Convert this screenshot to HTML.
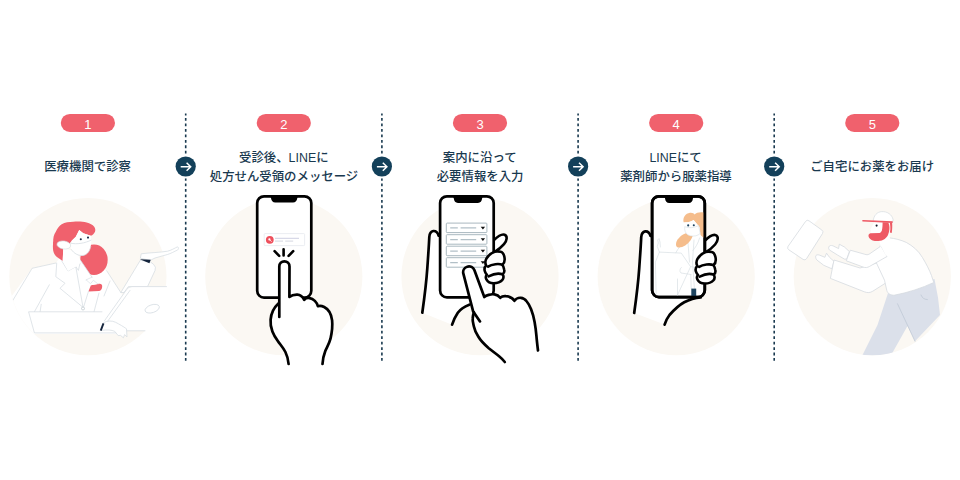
<!DOCTYPE html>
<html lang="ja"><head><meta charset="utf-8"><title>flow</title>
<style>
html,body{margin:0;padding:0;background:#fff;}
body{width:960px;height:480px;overflow:hidden;font-family:"Liberation Sans",sans-serif;}
svg{display:block;}
</style></head><body>
<svg width="960" height="480" viewBox="0 0 960 480">
<rect width="960" height="480" fill="#fff"/>
<circle cx="87.9" cy="276.6" r="78.6" fill="#fbf8f3"/>
<circle cx="283.8" cy="276.6" r="78.6" fill="#fbf8f3"/>
<circle cx="480.0" cy="276.6" r="78.6" fill="#fbf8f3"/>
<circle cx="676.2" cy="276.6" r="78.6" fill="#fbf8f3"/>
<circle cx="872.3" cy="276.6" r="78.6" fill="#fbf8f3"/>
<line x1="185.7" y1="113.6" x2="185.7" y2="361.6" stroke="#19394f" stroke-width="1.6" stroke-dasharray="2.8 2.655" stroke-dashoffset="1"/>
<circle cx="185.7" cy="166.5" r="12.1" fill="#fff"/>
<circle cx="185.7" cy="166.5" r="10.1" fill="#13405a"/>
<path d="M180.70 166.7H190.30M186.60 162.7L190.70 166.7L186.60 170.7" fill="none" stroke="#fff" stroke-width="1.5" stroke-linejoin="miter"/>
<line x1="381.9" y1="113.6" x2="381.9" y2="361.6" stroke="#19394f" stroke-width="1.6" stroke-dasharray="2.8 2.655" stroke-dashoffset="1"/>
<circle cx="381.9" cy="166.5" r="12.1" fill="#fff"/>
<circle cx="381.9" cy="166.5" r="10.1" fill="#13405a"/>
<path d="M376.90 166.7H386.50M382.80 162.7L386.90 166.7L382.80 170.7" fill="none" stroke="#fff" stroke-width="1.5" stroke-linejoin="miter"/>
<line x1="578.1" y1="113.6" x2="578.1" y2="361.6" stroke="#19394f" stroke-width="1.6" stroke-dasharray="2.8 2.655" stroke-dashoffset="1"/>
<circle cx="578.1" cy="166.5" r="12.1" fill="#fff"/>
<circle cx="578.1" cy="166.5" r="10.1" fill="#13405a"/>
<path d="M573.10 166.7H582.70M579.00 162.7L583.10 166.7L579.00 170.7" fill="none" stroke="#fff" stroke-width="1.5" stroke-linejoin="miter"/>
<line x1="774.2" y1="113.6" x2="774.2" y2="361.6" stroke="#19394f" stroke-width="1.6" stroke-dasharray="2.8 2.655" stroke-dashoffset="1"/>
<circle cx="774.2" cy="166.5" r="12.1" fill="#fff"/>
<circle cx="774.2" cy="166.5" r="10.1" fill="#13405a"/>
<path d="M769.20 166.7H778.80M775.10 162.7L779.20 166.7L775.10 170.7" fill="none" stroke="#fff" stroke-width="1.5" stroke-linejoin="miter"/>
<rect x="60.800000000000004" y="113.9" width="54.2" height="18" rx="9" fill="#f0616d"/>
<text x="87.9" y="128.7" font-size="13" fill="#fff" text-anchor="middle" font-family='"Liberation Sans", "Noto Sans CJK JP", sans-serif'>1</text>
<rect x="256.7" y="113.9" width="54.2" height="18" rx="9" fill="#f0616d"/>
<text x="283.8" y="128.7" font-size="13" fill="#fff" text-anchor="middle" font-family='"Liberation Sans", "Noto Sans CJK JP", sans-serif'>2</text>
<rect x="452.9" y="113.9" width="54.2" height="18" rx="9" fill="#f0616d"/>
<text x="480" y="128.7" font-size="13" fill="#fff" text-anchor="middle" font-family='"Liberation Sans", "Noto Sans CJK JP", sans-serif'>3</text>
<rect x="649.1" y="113.9" width="54.2" height="18" rx="9" fill="#f0616d"/>
<text x="676.2" y="128.7" font-size="13" fill="#fff" text-anchor="middle" font-family='"Liberation Sans", "Noto Sans CJK JP", sans-serif'>4</text>
<rect x="845.1999999999999" y="113.9" width="54.2" height="18" rx="9" fill="#f0616d"/>
<text x="872.3" y="128.7" font-size="13" fill="#fff" text-anchor="middle" font-family='"Liberation Sans", "Noto Sans CJK JP", sans-serif'>5</text>
<text x="87.6" y="170.6" font-size="12.4" font-weight="500" fill="#19394f" text-anchor="middle" font-family='"Liberation Sans", "Noto Sans CJK JP", sans-serif'>医療機関で診察</text>
<text x="283.8" y="161.5" font-size="12.4" font-weight="500" fill="#19394f" text-anchor="middle" font-family='"Liberation Sans", "Noto Sans CJK JP", sans-serif'>受診後、LINEに</text>
<text x="284" y="180.5" font-size="12.4" font-weight="500" fill="#19394f" text-anchor="middle" font-family='"Liberation Sans", "Noto Sans CJK JP", sans-serif'>処方せん受領のメッセージ</text>
<text x="479.7" y="161.5" font-size="12.4" font-weight="500" fill="#19394f" text-anchor="middle" font-family='"Liberation Sans", "Noto Sans CJK JP", sans-serif'>案内に沿って</text>
<text x="480.1" y="180.5" font-size="12.4" font-weight="500" fill="#19394f" text-anchor="middle" font-family='"Liberation Sans", "Noto Sans CJK JP", sans-serif'>必要情報を入力</text>
<text x="675.6" y="161.5" font-size="12.4" font-weight="500" fill="#19394f" text-anchor="middle" font-family='"Liberation Sans", "Noto Sans CJK JP", sans-serif'>LINEにて</text>
<text x="676" y="180.5" font-size="12.4" font-weight="500" fill="#19394f" text-anchor="middle" font-family='"Liberation Sans", "Noto Sans CJK JP", sans-serif'>薬剤師から服薬指導</text>
<text x="872.2" y="170.6" font-size="12.4" font-weight="500" fill="#19394f" text-anchor="middle" font-family='"Liberation Sans", "Noto Sans CJK JP", sans-serif'>ご自宅にお薬をお届け</text>
<g id="ill1">
<defs><clipPath id="c1"><circle cx="88" cy="276.6" r="78.6"/></clipPath></defs>
<g clip-path="url(#c1)">
<!-- ponytail + hair behind neck -->
<!-- coat (body + left arm) -->
<path d="M32.1 268.3L56 263L62 254L72 252L80 263.3L100 268L106.7 270.8L120.8 292.5L126 300L126 334L0 334L0 312Z" fill="#fff"/>
<!-- ponytail -->
<path d="M53.2 241.7C52.8 245 52.8 248 53.2 250.4C53.8 253.4 55.2 255.6 56.9 256.9L62.7 261L63.2 249L60 240Z" fill="#f0616d"/>
<ellipse cx="94" cy="259.7" rx="13.7" ry="15.3" fill="#f0616d"/>
<path d="M78 256L81.75 262L91 275.6L92 277.2L86 279.9L83 300L74 268Z" fill="#fff"/>
<!-- small red shape -->
<path d="M90.9 285.3L98 284.1C99.4 283.7 100.8 283.8 101.6 284.6C102.4 285.6 102.4 287.2 101.75 288.7C101.2 290 100.4 290.75 99 290.9L88.4 291.6Z" fill="#f0616d"/>
<!-- collar flap over red -->
<path d="M86 279.9L92 277.2L90.4 279.4L93.4 280.3L98 284L90.9 285.3L90.5 283.7Z" fill="#fff"/>
<path d="M86 279.9L92 277.2M86.3 280L90.5 283.7L93.4 280.3L98 284" fill="none" stroke="#d2dae0" stroke-width="0.6" stroke-linejoin="round" stroke-linecap="round"/>
<!-- coat lines -->
<g fill="none" stroke="#d2dae0" stroke-width="0.7" stroke-linejoin="round" stroke-linecap="round">
<path d="M12.6 300.8L32.1 268.3L56 263"/>
<path d="M49.3 284.8L34.4 311.8M41.2 304.3L40.1 311.8"/>
<path d="M56.7 263.3L55.8 276.7L65 283.3L60 288.3L82.6 307"/>
<path d="M80.6 260.4L92 277.2M88.4 291.6L83.6 307"/>
<path d="M75.8 266.7L82.9 306.6"/>
<path d="M61.7 260.8L68 271L75.8 266.7L78.4 270.4L80 263.3"/>
<path d="M106.7 270.8L120.8 292.5"/>
<path d="M99 293L94 311.8M110 281L104 296"/>
</g>
<circle cx="83" cy="308.5" r="1.5" fill="#fff" stroke="#b9c4cc" stroke-width="0.7"/>
<!-- desk -->
<path d="M28.6 311.8H126V332.6H34.4Z" fill="#fff"/>
<path d="M34.4 332.9L28.6 311.8H102.4M34.4 332.9H126" fill="none" stroke="#d3dadf" stroke-width="0.7" stroke-linejoin="round"/>
</g>
<!-- gesture sleeve + hand (other person) -->
<path d="M140.3 260.3L150.5 262L153.6 264.4Q156.6 267 155 270.6L147.5 286.7H128.3L124 292.5H120.8Z" fill="#fff" stroke="#d2dae0" stroke-width="0.7" stroke-linejoin="round"/>
<path d="M140.4 258.2L141.2 253.8C150 252.6 160 252.5 167.5 251.2C171 250.4 175 248 177.3 246.9C178.7 246.7 178.8 249.4 177.6 250C174 251.6 171 253.5 167.5 254.5C163 255.8 159 256.8 155 258L150.2 260.4Z" fill="#fff" stroke="#d2dae0" stroke-width="0.7" stroke-linejoin="round"/>
<path d="M139.8 259.2L150.7 259.7L149.4 263.2Z" fill="#14243c"/>
<!-- laptop -->
<path d="M132 286.6H176V330.8H100L105.8 318.3L126.6 289.6Q128.6 286.6 132 286.6Z" fill="#fff"/>
<path d="M166.5 286.6H132Q128.6 286.6 126.6 289.6L104.6 320.6M130 290.4L107.4 321.6M126 330.8H145" fill="none" stroke="#d2dae0" stroke-width="0.7" stroke-linecap="round"/>
<ellipse cx="152.2" cy="308.7" rx="7.4" ry="3.9" transform="rotate(-18 152.2 308.7)" fill="#fff" stroke="#d2dae0" stroke-width="0.7"/>
<!-- woman's hand on desk -->
<path d="M103.6 322.6C107.6 320.6 112 320.5 115.6 322.3C119.5 324.3 123.4 326.6 126.5 328.8L127 336.9L124.6 334.6L123.4 337.8L120.6 335.4L118.2 335.6L114.7 331.3C111.6 330 107.4 329.5 101.2 330.4Z" fill="#fff" stroke="#d2dae0" stroke-width="0.7" stroke-linejoin="round"/>
<path d="M103.5 323.3L100.7 330.6" stroke="#14243c" stroke-width="1.9" stroke-linecap="butt" fill="none"/>
<!-- neck -->
<path d="M63.3 248.2L62.7 261L68 271L75.8 266.7L80 263.3L78 252Z" fill="#fff"/>
<!-- hair top -->
<path d="M53.2 243C53 238 53.8 234.4 55.8 231.7C57.4 228 59.4 225.6 61.7 224.2C65 222.4 69 221.8 73.3 221.7C78 221.4 83 221.5 86.7 222.5C90 223.4 92.6 224.8 94.2 226.7C95.4 228.4 95.6 230.2 95 231.7C94.2 233.6 92.6 235 90.8 235.8L83.3 233.3L79.2 230L75.8 236.7L71.7 240.8L66 248L58 248Z" fill="#f0616d"/>
<!-- face -->
<path d="M79.2 230L83.3 233.3L90.8 235.8C91.6 240 91.6 246 89.2 251C86.8 255.4 82.4 256.6 78.4 255.2C75 254 72 251 70.6 248L71.7 240.8L75.8 236.7Z" fill="#fff"/>
<path d="M70.6 243.2C77 244.6 85 243.2 91 240.2M71.4 249.6C74 253.6 78.6 256.2 83.4 255.4C87.4 254.6 89.8 251 90.8 246.6" fill="none" stroke="#d2dae0" stroke-width="0.7" stroke-linecap="round"/>
<!-- ear -->
<ellipse cx="63.8" cy="245" rx="6.9" ry="4" transform="rotate(8 63.8 245)" fill="#fff" stroke="#d5dce1" stroke-width="0.6"/>
<circle cx="80.8" cy="239.2" r="1.05" fill="#1b2a47"/>
<circle cx="88" cy="237.6" r="1.05" fill="#1b2a47"/>

</g>
<g id="ill2">
<!-- phone -->
<rect x="257.2" y="196.3" width="54.1" height="101.3" rx="6.8" fill="#fff" stroke="#000" stroke-width="2.7"/>
<path d="M268.6 196H299.4C297.8 196.4 297.4 197.4 297.2 198.6C296.9 201 295.6 202.5 293 202.5H275.3C272.7 202.5 271.4 201 271.1 198.6C270.9 197.4 270.5 196.4 268.6 196Z" fill="#000"/>
<!-- notification -->
<rect x="264.2" y="233.6" width="40.4" height="12" rx="0.8" fill="#fff" stroke="#e3e6ec" stroke-width="0.7"/>
<circle cx="269.8" cy="239.8" r="3.9" fill="#ee4f5c"/>
<circle cx="269.4" cy="239.4" r="1.1" fill="#fff"/>
<path d="M270.1 240.2L271.3 241.4" stroke="#fff" stroke-width="0.8" stroke-linecap="round"/>
<path d="M275 238.3H299" stroke="#c9cbe0" stroke-width="0.9"/>
<path d="M275 241.1H283M285.2 241.1H293.2" stroke="#cfd1dd" stroke-width="0.9"/>
<!-- tap marks -->
<path d="M283.6 249.3V255.4M274.6 251.2L279.2 255.9M293.2 251.2L288.6 255.9" fill="none" stroke="#000" stroke-width="2.6" stroke-linecap="round"/>
<!-- hand -->
<path d="M279.5 266.4A5 5 0 0 1 289.5 266.4L289.4 297C290.6 296 294 294.6 297.3 294.7C300.5 294.9 303 297.4 304.2 299.8C305.4 298.4 307.4 297.8 309.6 298.1C313.4 298.6 317 302.3 317.9 306.2C319.6 305.6 322 305.9 324.2 307C328.6 309.2 331.4 314.6 332.1 320.4C332.6 325 332 332 330.5 338.7C329 344.4 326.6 347.6 325.3 351C323.8 354.8 322.8 359.4 322.5 364L288.6 364C288.2 359.6 287.2 355.6 285.4 352C283.4 348 280.4 344.8 277.8 341C275.4 337.6 273.6 334.6 272.4 331.4C270.8 327.4 270.3 323.4 270.6 319.6C271 314.4 273.4 308 277.8 303.9L279.5 303Z" fill="#fff"/>
<path d="M279.3 317V266.4A5.1 5.1 0 0 1 289.5 266.4L289.4 297C290.6 296 294 294.6 297.3 294.7C300.5 294.9 303 297.4 304.2 299.8C305.4 298.4 307.4 297.8 309.6 298.1C313.4 298.6 317 302.3 317.9 306.2C319.6 305.6 322 305.9 324.2 307C328.6 309.2 331.4 314.6 332.1 320.4C332.6 325 332 332 330.5 338.7C329 344.4 326.6 347.6 325.3 351C323.8 354.8 322.8 359.4 322.5 364" fill="none" stroke="#000" stroke-width="2.7" stroke-linecap="round" stroke-linejoin="round"/>
<path d="M278.4 303.4C273.8 307.6 271 314.4 270.6 319.6C270.3 323.4 270.8 327.4 272.4 331.4C273.6 334.6 275.4 337.6 277.8 341C280.4 344.8 283.4 348 285.4 352C287.2 355.6 288.2 359.6 288.6 364" fill="none" stroke="#000" stroke-width="2.7" stroke-linecap="round" stroke-linejoin="round"/>

</g>
<g id="ill3">
<!-- left hand (behind phone) -->
<path d="M438.6 235.6C437.8 232.7 435.6 230.8 433.3 231C430.6 231.4 429.5 234 429.3 237C428.8 248 428 258 427.3 268.3C426.5 280 424.5 297 422.3 312.7L452.1 324.7C453.4 320.6 455.4 316.4 457.8 312.8C460.6 308.8 464.6 306.4 469.3 304.7L470 290L441 290Z" fill="#fff"/>
<path d="M438.6 235.6C437.8 232.7 435.6 230.8 433.3 231C430.6 231.4 429.5 234 429.3 237C428.8 248 428 258 427.3 268.3C426.5 280 424.5 297 422.3 312.7" fill="none" stroke="#000" stroke-width="2.7" stroke-linecap="round" stroke-linejoin="round"/>
<path d="M469.3 304.7C464.6 306.4 460.6 308.8 457.8 312.8C455.4 316.4 453.4 320.6 452.1 324.7" fill="none" stroke="#000" stroke-width="2.7" stroke-linecap="round"/>
<!-- finger 1 behind phone edge -->
<path d="M493.7 240.4C496.6 237.6 501.6 233.6 504.6 234.8C507.8 236 507 240.6 504 244.2C501 247.8 497.4 250.4 493.7 252.6Z" fill="#fff" stroke="#000" stroke-width="2.6" stroke-linejoin="round"/>
<!-- phone -->
<rect x="440.1" y="196.3" width="53.6" height="101.1" rx="6.8" fill="#fff" stroke="#000" stroke-width="2.7"/>
<path d="M451.4 196H484.5C482.8 196.4 482.3 197.4 482.1 198.6C481.8 201.2 480.5 202.9 477.9 202.9H458C455.4 202.9 454.1 201.2 453.8 198.6C453.6 197.4 453.1 196.4 451.4 196Z" fill="#000"/>
<!-- form -->
<g fill="#fff" stroke="#a9b8bf" stroke-width="1">
<rect x="446.3" y="223.1" width="40.6" height="9.5" rx="0.8"/>
<rect x="446.3" y="234.7" width="40.6" height="9.5" rx="0.8"/>
<rect x="446.3" y="246.2" width="40.6" height="9.5" rx="0.8"/>
<rect x="446.3" y="257.7" width="40.6" height="9.5" rx="0.8"/>
</g>
<path d="M450.2 227.9H457.8M460.6 227.9H476.2M450.2 239.5H457.8M460.6 239.5H476.2M450.2 251H457.8M460.6 251H476.2M450.2 262.5H457.8M460.6 262.5H476.2" stroke="#b2c0c7" stroke-width="1.25" fill="none"/>
<path d="M480.7 226.7H485.1L482.9 229.4ZM480.7 238.3H485.1L482.9 241ZM480.7 249.8H485.1L482.9 252.5ZM480.7 261.3H485.1L482.9 264Z" fill="#111"/>
<!-- gripping fingers 2-4 -->
<path d="M494.6 251.7C491.4 253 488.2 255.4 486.4 258.6C485.2 260.8 485 263.4 486.2 265.6C484.6 267 484.2 269.4 484.9 271.4C485.3 272.7 486 273.8 486.9 274.6C485.6 276 485.6 277.8 486.4 279.3C487.8 281.9 490.6 283.2 493.6 283.2C497 283.2 500.4 282.2 502.2 280.2C503.6 278.6 503.8 276.2 502.6 274.3C504.2 273.2 504.6 271.4 504.2 269.7C503.8 267.8 503.2 266 502.4 264.8C504.4 263.2 505 260 504.4 257C503.8 254.2 502.6 252 500.6 251.7C498.6 251.4 496.6 251.2 494.6 251.7Z" fill="#fff" stroke="#000" stroke-width="2.6" stroke-linejoin="round"/>
<path d="M502.4 264.8C499 263.4 492 264 488 266.6M502.6 274.3C499.4 273.2 493.4 273.8 488.6 276.4" fill="none" stroke="#000" stroke-width="2.6" stroke-linecap="round"/>
<!-- right hand with pointing finger -->
<path d="M473.2 311.6L463.36 273.7A5.8 5.8 0 0 1 474.44 270.3L484.3 297C486 295.4 491 293.8 494.5 294.4C497.2 294.9 499 296.2 500.2 297.8C501.8 296.4 504 296 505.9 296.2C509 296.4 512.6 298.2 514.4 300.8C516 298.6 518.4 297.6 520.8 297.8C523.2 298 525.2 299.4 526.6 301.25C528.6 303.6 530 306.4 531.1 309.3C532.6 313.2 533.8 317.6 534.6 321.9C535.4 326.4 536 331 536.4 335.6C536.8 340.6 537.4 345.6 538 350.5L504.8 362C502.8 359.6 501 357.8 499.1 356.25C495.8 353.6 492.2 351 488.75 348.2C485 345 481 341.2 478.4 336.8C476.4 333.6 474.6 330.2 473.9 326.5C473.2 323.4 472.4 321 472.7 318.4C472.9 316 473.3 314 473.9 312.25Z" fill="#fff"/>
<path d="M480 321.4L473.2 311.6L463.36 273.7A5.8 5.8 0 0 1 474.44 270.3L484.3 297C486 295.4 491 293.8 494.5 294.4C497.2 294.9 499 296.2 500.2 297.8C501.8 296.4 504 296 505.9 296.2C509 296.4 512.6 298.2 514.4 300.8C516 298.6 518.4 297.6 520.8 297.8C523.2 298 525.2 299.4 526.6 301.25C528.6 303.6 530 306.4 531.1 309.3C532.6 313.2 533.8 317.6 534.6 321.9C535.4 326.4 536 331 536.4 335.6C536.8 340.6 537.4 345.6 538 350.5" fill="none" stroke="#000" stroke-width="2.7" stroke-linecap="round" stroke-linejoin="round"/>
<path d="M473.9 312.25C473.3 314 472.9 316 472.7 318.4C472.4 321 473.2 323.4 473.9 326.5C474.6 330.2 476.4 333.6 478.4 336.8C481 341.2 485 345 488.75 348.2C492.2 351 495.8 353.6 499.1 356.25C501 357.8 502.8 359.6 504.8 362" fill="none" stroke="#000" stroke-width="2.7" stroke-linecap="round" stroke-linejoin="round"/>

</g>
<g id="ill4">
<g transform="translate(211.9 0.3)">
<!-- left hand (behind phone) -->
<path d="M438.6 235.6C437.8 232.7 435.6 230.8 433.3 231C430.6 231.4 429.5 234 429.3 237C428.8 248 428 258 427.3 268.3C426.5 280 424.5 297 422.3 312.7L452.7 324.3C453.8 320.6 455.4 317.6 457.6 314.7C463 308.6 468 304.4 472.3 302C478 298.8 483 297.4 489 297L470 290L441 290Z" fill="#fff"/>
<path d="M438.6 235.6C437.8 232.7 435.6 230.8 433.3 231C430.6 231.4 429.5 234 429.3 237C428.8 248 428 258 427.3 268.3C426.5 280 424.5 297 422.3 312.7" fill="none" stroke="#000" stroke-width="2.7" stroke-linecap="round" stroke-linejoin="round"/>
<path d="M489 297C483 297.4 478 298.8 472.3 302C468 304.4 463 308.6 457.6 314.7C455.4 317.6 453.8 320.6 452.7 324.3" fill="none" stroke="#000" stroke-width="2.7" stroke-linecap="round"/>
<!-- finger 1 behind phone edge -->
<path transform="translate(-0.8 0)" d="M493.7 240.4C496.6 237.6 501.6 233.6 504.6 234.8C507.8 236 507 240.6 504 244.2C501 247.8 497.4 250.4 493.7 252.6Z" fill="#fff" stroke="#000" stroke-width="2.6" stroke-linejoin="round"/>
<!-- phone -->
<rect x="440.2" y="196" width="52.7" height="100.8" rx="6.8" fill="#fff" stroke="#000" stroke-width="2.7"/>
</g>
<!-- screen content -->
<g id="screen4">
<!-- body sketch lines -->
<g fill="none" stroke="#d9e0e4" stroke-width="0.7" stroke-linejoin="round" stroke-linecap="round">
<path d="M659.4 252.1L681.3 253.1L690.6 266.7L677.1 296"/>
<path d="M659.4 252.1L655.4 262L656.2 296"/>
<path d="M659.4 252.1L657.3 246.5L658.3 243L657.7 240L659 238.5L660 242L660.4 247"/>
<path d="M675.8 252.8C678 248 682 244 686.5 241"/>
<path d="M687.5 236.5L689.5 262M694 240L692.5 262L694.4 288.5"/>
<path d="M699.6 238C698 244 695 248 692.9 250.5"/>
<path d="M681.3 267.5C679.6 269 679.4 271.5 681 273L691 274.5"/>
<path d="M690.6 266.7L696.5 267.5"/>
<path d="M677.5 279V296M690.8 274.5L691.2 288.5"/>
</g>
<!-- hair -->
<path d="M683.6 222.2C682.6 217.6 685.4 213.4 690 212.8C692.4 212.5 693.8 213.4 694.6 214.4C696.2 212.6 699 212 702 212.2L704.2 212.6V238.2C702.8 237.4 701.4 236.2 700.4 234.6L699.4 227C697.6 224.4 695.4 222.4 693.6 220C691.4 221.8 687 222.6 683.6 222.2Z" fill="#f5bd8c"/>
<path d="M689.8 232.2C685.4 232.6 680.4 235.4 677.6 239.6C675.6 242.6 675.4 246.6 677.4 247.2C681.6 248.4 687.4 244.6 690.4 240.4C691.8 238.4 692.4 236.6 692.8 235.4Z" fill="#f5bd8c"/>
<!-- face + mask -->
<path d="M684.6 222.4C687.6 222.6 691.4 221.8 693.6 220C695.4 222.4 697.6 224.4 699.4 227L700.2 233.4C698 235.8 694 236.6 690.4 235.8C687 235 685 232.6 684.6 229.4Z" fill="#fff"/>
<path d="M684.7 226.6C689 228.4 694 227.8 698.6 225.6L700.2 233.4C698 235.8 694 236.6 690.4 235.8C687 235 685 232.6 684.7 229.4Z" fill="#fff" stroke="#d5dde2" stroke-width="0.6"/>
<circle cx="688.2" cy="225.4" r="1.05" fill="#1f4560"/>
<circle cx="693.8" cy="225.3" r="1.05" fill="#1f4560"/>
<!-- navy pen -->
<rect x="691.3" y="288.6" width="4.9" height="7.4" fill="#1f4560"/>
</g>
<g transform="translate(211.9 0.3)">
<!-- phone frame stroke again above screen content -->
<rect x="440.2" y="196" width="52.7" height="100.8" rx="6.8" fill="none" stroke="#000" stroke-width="2.7"/>
<path d="M451 195.8H483.2C481.6 196.2 481.2 197.2 481 198.4C480.7 201 479.4 202.6 476.8 202.6H457.4C454.8 202.6 453.5 201 453.2 198.4C453 197.2 452.6 196.2 451 195.8Z" fill="#000"/>
<!-- gripping fingers 2-4 -->
<g transform="translate(-0.8 0)"><path d="M494.6 251.7C491.4 253 488.2 255.4 486.4 258.6C485.2 260.8 485 263.4 486.2 265.6C484.6 267 484.2 269.4 484.9 271.4C485.3 272.7 486 273.8 486.9 274.6C485.6 276 485.6 277.8 486.4 279.3C487.8 281.9 490.6 283.2 493.6 283.2C497 283.2 500.4 282.2 502.2 280.2C503.6 278.6 503.8 276.2 502.6 274.3C504.2 273.2 504.6 271.4 504.2 269.7C503.8 267.8 503.2 266 502.4 264.8C504.4 263.2 505 260 504.4 257C503.8 254.2 502.6 252 500.6 251.7C498.6 251.4 496.6 251.2 494.6 251.7Z" fill="#fff" stroke="#000" stroke-width="2.6" stroke-linejoin="round"/>
<path d="M502.4 264.8C499 263.4 492 264 488 266.6M502.6 274.3C499.4 273.2 493.4 273.8 488.6 276.4" fill="none" stroke="#000" stroke-width="2.6" stroke-linecap="round"/></g>
</g>

</g>
<g id="ill5">
<defs><clipPath id="c5"><circle cx="872.3" cy="276.6" r="78.6"/></clipPath></defs>
<!-- package -->
<path d="M805.6 221.4Q807 219.4 809 220.8L821.8 230Q823.8 231.4 822.5 233.5L806.6 258.6Q805.2 260.8 803.1 259.4L788.8 249.8Q786.8 248.4 788.1 246.3Z" fill="#fff" stroke="#d5dbe0" stroke-width="0.8"/>
<!-- pants -->
<g clip-path="url(#c5)">
<path d="M889 290L934.5 279L938 297.5L940 315L915 341.3L907.5 326L889.5 358L860 360L877.5 325Z" fill="#dbe0ea"/>
<path d="M897.5 303.8L915 341.3M921 295C922 298 924.6 299.6 927.4 299.6" fill="none" stroke="#bcc5d2" stroke-width="0.7" stroke-linecap="round"/>
</g>
<!-- far (lower) arm -->
<path d="M834 261.4L829.5 257.3L826.5 253.2L824.9 257.3L819.2 255C817.4 254.4 815.9 255 815.7 256.1C815.5 257.6 816 259 816.9 260L823.75 265.3L831.8 268.75Z" fill="#fff" stroke="#d5dbe0" stroke-width="0.8" stroke-linejoin="round"/>
<path d="M834 260L830.4 278.4L864.4 291.8C867.4 293 870.2 292.8 872.8 291.2L892 279L880 262L860 268Z" fill="#fff" stroke="#d5dbe0" stroke-width="0.8" stroke-linejoin="round"/>
<!-- body / jacket -->
<path d="M881 243C883 239 886 237.6 889 237.8C895 238.4 901 240 906.25 242.4C913 246 918.6 251 922.3 257.3C926.4 264 929.4 270 931.5 275.6L933.75 282.5C922 288 908 292.6 894.8 295.1C890.6 295.6 887.8 293.6 886.8 290.5L884.5 280.2L876 262Z" fill="#fff" stroke="#d5dbe0" stroke-width="0.8" stroke-linejoin="round"/>
<!-- near (upper) arm -->
<path d="M849.4 251.6L844.4 247L839.3 244.2L838.6 248.6L832.9 245.8C831 245 829.2 245.6 828.8 247C828.5 248.2 828.8 249.2 829.5 250L837.5 255L844.4 259.1L846.7 259.1Z" fill="#fff" stroke="#d5dbe0" stroke-width="0.8" stroke-linejoin="round"/>
<path d="M850.3 250.2L846.3 260.8L863 267C865.4 267.9 867.4 267.7 869.4 266.5L887 256.5L881 246L870 253.6C868.8 254.6 867.4 254.9 866 254.6Z" fill="#fff" stroke="#d5dbe0" stroke-width="0.8" stroke-linejoin="round"/>
<path d="M881 246L889 238L896 250L886 256Z" fill="#fff"/>
<!-- neck -->
<path d="M879 238L880.5 247L890 241L889.6 232Z" fill="#fff"/>
<!-- head -->
<path d="M873.2 221.2C873.6 215.6 877 211.9 881.8 211.6C887 211.3 892 214.4 893.1 219.6L892.6 222.6L873.2 221.2Z" fill="#fff" stroke="#d5dbe0" stroke-width="0.7"/>
<path d="M874.3 222L882.8 222.4L882.4 233.4L871 233.6C870.4 232.6 870.4 231.4 871 230.4L870.3 229.6L871.7 227Z" fill="#fff"/>
<path d="M888.3 222.5C889.3 225 889.6 227 889.4 229C889.2 231.2 888.8 233 888.1 234.7C887.4 236.4 886.2 237.8 884.7 238.9C883 240.2 880.8 240.8 878.4 240.9C876.4 241 874.4 240.9 872.7 240.4C871.2 239.9 869.8 239 869.1 237.8C868.6 237 868.4 236 868.5 235.2C868.7 234.2 869.6 233.5 870.6 233.3L879.5 233.1C880.6 232.6 881.5 231.6 881.9 230.5C882.5 228 882.6 225.4 882.6 222.3Z" fill="#ee5a65"/>
<path d="M889.9 222.6L892.1 222.8C892.4 226 892.3 229.6 891.7 233.1L889.9 232.6C890.4 230.4 890.5 228.4 890.3 226.6Z" fill="#ee5a65"/>
<path d="M862.9 220C862 220.1 861.9 221.3 862.8 221.5L892.5 223L892.7 221.3Z" fill="#ee5a65"/>
<circle cx="876.6" cy="225.6" r="1.05" fill="#151a28"/>

</g>
</svg>
</body></html>
